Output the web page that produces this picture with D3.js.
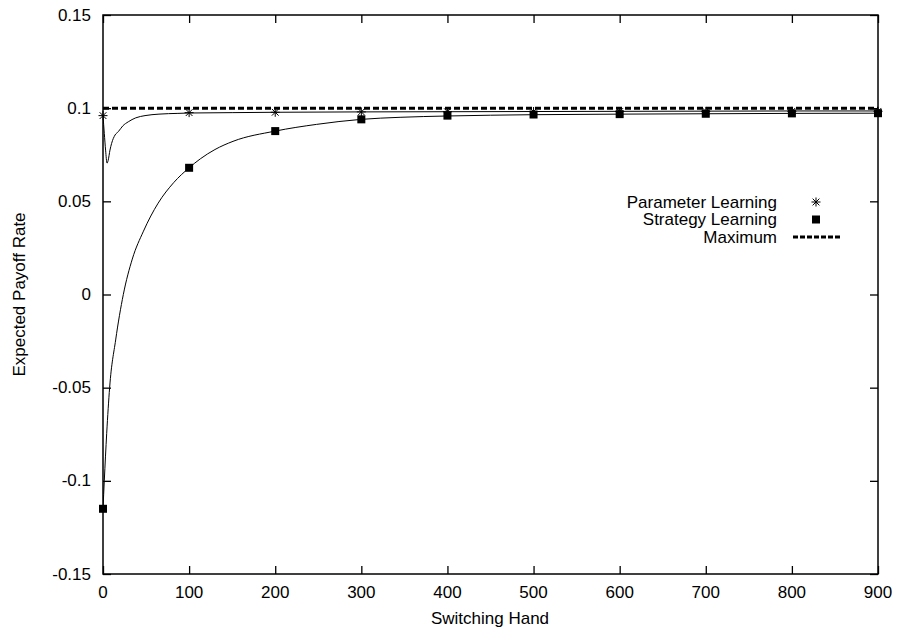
<!DOCTYPE html>
<html>
<head>
<meta charset="utf-8">
<script src="https://cdn.jsdelivr.net/npm/d3@7"></script>
<style>
  html, body { margin: 0; padding: 0; background: #fff; }
  svg { display: block; }
  text { font-family: "Liberation Sans", Arial, sans-serif; font-size: 17px; fill: #000; }
</style>
</head>
<body>
<svg id="chart" width="898" height="632"></svg>
<script>
// Axis ticks
const xTicks = [0, 100, 200, 300, 400, 500, 600, 700, 800, 900];
const yTicks = [-0.15, -0.1, -0.05, 0, 0.05, 0.1, 0.15];
const yTickLabels = ["-0.15", "-0.1", "-0.05", "0", "0.05", "0.1", "0.15"];

// Sampled hands (markers)
const markerHands = [0, 100, 200, 300, 400, 500, 600, 700, 800, 900];
const paramMarkers = [0.096, 0.0976, 0.0978, 0.098, 0.0981, 0.0982, 0.0982, 0.0983, 0.0983, 0.0983];
const strategyMarkers = [-0.115, 0.068, 0.0877, 0.094, 0.096, 0.0966, 0.0968, 0.097, 0.0972, 0.0973];

// Continuous curves
const paramCurveHands = [0, 1.5, 3, 4.7, 6, 8.1, 10, 14, 17.8, 23, 29.4, 38, 48.8, 65, 87, 100, 150, 200, 300, 400, 500, 600, 700, 800, 900];
const paramCurveValues = [0.096, 0.0865, 0.0775, 0.0705, 0.072, 0.0775, 0.0811, 0.0856, 0.0874, 0.0905, 0.0927, 0.0948, 0.0960, 0.0968, 0.0972, 0.0974, 0.0976, 0.0978, 0.098, 0.0981, 0.0982, 0.0983, 0.0984, 0.0985, 0.0985];

const strategyCurveHands = [0, 1.5, 4.3, 7.7, 14.7, 23.6, 34, 47, 64, 82, 100, 113, 130, 151, 200, 248, 300, 345, 400, 500, 600, 700, 800, 900];
const strategyCurveValues = [-0.115, -0.1, -0.0745, -0.05, -0.0244, 0, 0.019, 0.034, 0.049, 0.06, 0.068, 0.0728, 0.0778, 0.0822, 0.0877, 0.0913, 0.094, 0.0951, 0.0958, 0.0965, 0.0968, 0.097, 0.0972, 0.0973];

const maximumValue = 0.1;

const seriesNames = ["Parameter Learning", "Strategy Learning", "Maximum"];
const xTitle = "Switching Hand";
const yTitle = "Expected Payoff Rate";

// Layout
const plot = { left: 103, right: 878, top: 15, bottom: 574 };
const svg = d3.select("#chart");

const x = d3.scaleLinear().domain([0, 900]).range([plot.left, plot.right]);
const y = d3.scaleLinear().domain([-0.15, 0.15]).range([plot.bottom, plot.top]);

const tickLen = 8;

// Inward ticks on all four sides
const bottomAxis = d3.axisBottom(x).tickValues(xTicks).tickSize(-tickLen).tickFormat("");
const topAxis = d3.axisTop(x).tickValues(xTicks).tickSize(-tickLen).tickFormat("");
const leftAxis = d3.axisLeft(y).tickValues(yTicks).tickSize(-tickLen).tickFormat("");
const rightAxis = d3.axisRight(y).tickValues(yTicks).tickSize(-tickLen).tickFormat("");

function styleAxis(g) {
  g.select(".domain").remove();
  g.selectAll(".tick line").attr("stroke", "#000").attr("stroke-width", 1.3);
}
svg.append("g").attr("transform", `translate(0,${plot.bottom})`).call(bottomAxis).call(styleAxis);
svg.append("g").attr("transform", `translate(0,${plot.top})`).call(topAxis).call(styleAxis);
svg.append("g").attr("transform", `translate(${plot.left},0)`).call(leftAxis).call(styleAxis);
svg.append("g").attr("transform", `translate(${plot.right},0)`).call(rightAxis).call(styleAxis);

// Tick labels
svg.append("g").selectAll("text").data(xTicks).join("text")
  .attr("x", d => x(d)).attr("y", 592)
  .attr("text-anchor", "middle").attr("dominant-baseline", "central")
  .text(d => d);
svg.append("g").selectAll("text").data(yTicks).join("text")
  .attr("x", 91).attr("y", d => y(d))
  .attr("text-anchor", "end").attr("dominant-baseline", "central")
  .text((d, i) => yTickLabels[i]);

// Axis titles
svg.append("text").attr("x", 490).attr("y", 618)
  .attr("text-anchor", "middle").attr("dominant-baseline", "central").text(xTitle);
svg.append("text")
  .attr("transform", `translate(19,${(plot.top + plot.bottom) / 2}) rotate(-90)`)
  .attr("text-anchor", "middle").attr("dominant-baseline", "central").text(yTitle);

// Curves
const line = d3.line().x(d => x(d[0])).y(d => y(d[1])).curve(d3.curveMonotoneX);
svg.append("defs").append("clipPath").attr("id", "plotclip")
  .append("rect").attr("x", plot.left).attr("y", plot.top)
  .attr("width", plot.right - plot.left).attr("height", plot.bottom - plot.top);

const data = svg.append("g").attr("clip-path", "url(#plotclip)");

data.append("path")
  .attr("d", line(paramCurveHands.map((h, i) => [h, paramCurveValues[i]])))
  .attr("fill", "none").attr("stroke", "#000").attr("stroke-width", 1);
data.append("path")
  .attr("d", line(strategyCurveHands.map((h, i) => [h, strategyCurveValues[i]])))
  .attr("fill", "none").attr("stroke", "#000").attr("stroke-width", 1);

// Maximum line
data.append("line")
  .attr("x1", x(0)).attr("x2", x(900))
  .attr("y1", y(maximumValue)).attr("y2", y(maximumValue))
  .attr("stroke", "#000").attr("stroke-width", 3).attr("stroke-dasharray", "6,3");

// Markers
function star(g, cx, cy, r) {
  const d = r * 0.75;
  g.append("path")
    .attr("d", `M${cx - r},${cy}H${cx + r}M${cx},${cy - r}V${cy + r}M${cx - d},${cy - d}L${cx + d},${cy + d}M${cx - d},${cy + d}L${cx + d},${cy - d}`)
    .attr("stroke", "#000").attr("stroke-width", 1).attr("fill", "none");
}
function square(g, cx, cy, s) {
  g.append("rect").attr("x", cx - s / 2).attr("y", cy - s / 2)
    .attr("width", s).attr("height", s).attr("fill", "#000");
}

const marks = svg.append("g");
markerHands.forEach((h, i) => star(marks, x(h), y(paramMarkers[i]), 4.5));
markerHands.forEach((h, i) => square(marks, x(h), y(strategyMarkers[i]), 8));

// Frame
svg.append("rect")
  .attr("x", plot.left).attr("y", plot.top)
  .attr("width", plot.right - plot.left).attr("height", plot.bottom - plot.top)
  .attr("fill", "none").attr("stroke", "#000").attr("stroke-width", 1.5);

// Legend
const legend = svg.append("g");
const legendRows = [202, 219.5, 237];
seriesNames.forEach((name, i) => {
  legend.append("text").attr("x", 777).attr("y", legendRows[i])
    .attr("text-anchor", "end").attr("dominant-baseline", "central").text(name);
});
star(legend, 816, legendRows[0], 4.5);
square(legend, 816, legendRows[1], 8);
legend.append("line").attr("x1", 793).attr("x2", 841)
  .attr("y1", legendRows[2]).attr("y2", legendRows[2])
  .attr("stroke", "#000").attr("stroke-width", 3).attr("stroke-dasharray", "5,2");
</script>
</body>
</html>
